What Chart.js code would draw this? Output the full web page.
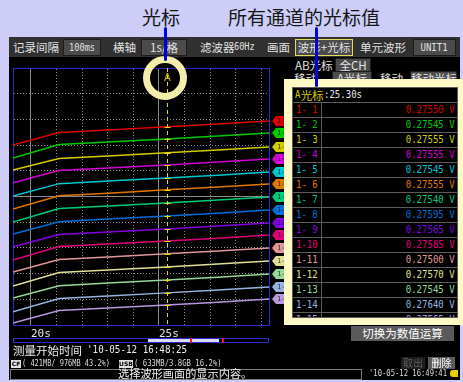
<!DOCTYPE html>
<html><head><meta charset="utf-8">
<script src="https://cdn.jsdelivr.net/npm/chart.js@4/dist/chart.umd.min.js"></script>
<style>
*{box-sizing:border-box;margin:0;padding:0}
body{width:463px;height:382px;background:#cdcdf7;position:relative;overflow:hidden;font-family:"Noto Sans CJK SC","Noto Sans",sans-serif}
.a{position:absolute;white-space:nowrap}
.cj{font-size:11.5px;line-height:16px;color:#e2e2e2}
.bm{font-family:"DejaVu Sans Mono",monospace;display:inline-block;vertical-align:top;transform-origin:left center}
.box{background:#4b4b4b;border:1px solid #1c1c1c;text-align:center}
.row{position:absolute;left:0;width:100%;height:15px;border-top:1px solid #5c5c5c}
.lab{position:absolute;left:0;top:0;width:29px;height:14px;border-right:1px solid #5c5c5c;padding-left:3px;line-height:14px;font-size:11px}
.val{position:absolute;right:2px;top:0;line-height:14px;font-size:11px}
</style></head>
<body>
<div class="a" style="left:142px;top:4px;font-size:19px;line-height:26px;color:#161616">光标</div>
<div class="a" style="left:228px;top:4px;font-size:19px;line-height:26px;color:#161616">所有通道的光标值</div>

<div class="a" style="left:9px;top:37px;width:451px;height:343px;background:#000"></div>
<div class="a" style="left:9px;top:37px;width:451px;height:20px;background:#303030"></div>
<div class="a cj" style="left:13px;top:39px">记录间隔</div>
<div class="a box cj" style="left:63px;top:39px;width:38px;height:17px;line-height:15px;font-size:10px"><span class="bm" style="transform:scaleX(0.86);transform-origin:center">100ms</span></div>
<div class="a cj" style="left:113px;top:39px">横轴</div>
<div class="a box cj" style="left:141px;top:39px;width:46px;height:17px;line-height:15px">1s/格</div>
<div class="a cj" style="left:200px;top:39px">滤波器</div>
<div class="a cj" style="left:234px;top:39px;font-size:10px"><span class="bm" style="transform:scaleX(0.86)">60Hz</span></div>
<div class="a cj" style="left:267px;top:39px">画面</div>
<div class="a box cj" style="left:295px;top:39px;width:58px;height:17px;line-height:15px;border:1px solid #e4dc60">波形+光标</div>
<div class="a cj" style="left:360px;top:39px">单元波形</div>
<div class="a box cj" style="left:413px;top:39px;width:43px;height:17px;line-height:15px;font-size:10px"><span class="bm" style="transform:scaleX(0.9);transform-origin:center">UNIT1</span></div>

<div class="a cj" style="left:295px;top:57px">AB光标</div>
<div class="a box cj" style="left:335px;top:58px;width:36px;height:14px;line-height:12px">全CH</div>
<div class="a cj" style="left:294px;top:70px">移动</div>
<div class="a box cj" style="left:332px;top:71px;width:40px;height:14px;line-height:12px">A光标</div>
<div class="a cj" style="left:380px;top:70px">移动</div>
<div class="a box cj" style="left:410px;top:71px;width:47px;height:14px;line-height:12px">移动光标</div>

<div class="a" style="left:0;top:57px;width:290px;height:290px"><canvas id="c" width="290" height="290"></canvas></div>

<div class="a" style="left:284px;top:79px;width:179px;height:246px;background:#fcf9c4"></div>
<div class="a" id="tbl" style="left:292px;top:87px;width:166px;height:231px;background:#000;border:1px solid #5c5c5c;overflow:hidden">
  <div class="a" style="left:2px;top:0;line-height:14px;font-size:11.5px;color:#d8cc00"><span class="bm" style="font-size:11px;transform:scaleX(0.82)">A</span><span style="margin-left:-1px">光标</span><span class="bm" style="font-size:11px;color:#e6e6e6;transform:scaleX(0.82)">:25.30s</span></div>
</div>

<div class="a" style="left:143px;top:56px;width:44px;height:44px;border:7px solid #f3efab;border-radius:50%"></div>

<div class="a" style="left:351px;top:326px;width:103px;height:15px;background:#5a5a5a;color:#fff;font-size:11.5px;line-height:15px;text-align:center">切换为数值运算</div>
<div class="a" style="left:13px;top:338px;width:256px;height:5px;border:1px solid #2a2ad0"></div>
<div class="a" style="left:148px;top:339px;width:71px;height:3px;background:#dcdcee"></div>
<div class="a" style="left:190px;top:338px;width:2px;height:5px;background:#e02020"></div>
<div class="a" style="left:222px;top:338px;width:2px;height:5px;background:#e02020"></div>

<div class="a cj" style="left:13px;top:342px;font-size:11.5px;color:#ececec">测量开始时间</div>
<div class="a" style="left:87px;top:342px;line-height:16px;font-size:11px;color:#ececec"><span class="bm" style="transform:scaleX(0.84)">'10-05-12 16:48:25</span></div>

<div class="a" style="left:11px;top:360px;width:10px;height:8px;background:#e0e0e0;color:#000;font:bold 6px/8px 'DejaVu Sans';text-align:center">CF</div>
<div class="a" style="left:22px;top:358px;line-height:11px;font-size:8px;color:#dcdcdc"><span class="bm" style="transform:scaleX(0.87)">( 421MB/ 976MB 43.2%)</span></div>
<div class="a" style="left:119px;top:360px;width:14px;height:8px;background:#e0e0e0;color:#000;font:bold 6px/8px 'DejaVu Sans';text-align:center">USB</div>
<div class="a" style="left:134px;top:358px;line-height:11px;font-size:8px;color:#dcdcdc"><span class="bm" style="transform:scaleX(0.91)">( 633MB/3.8GB 16.2%)</span></div>
<div class="a" style="left:401px;top:357px;width:24px;height:12px;background:#1e1e1e;color:#5e5e5e;font-size:10px;line-height:12px;text-align:center">取出</div>
<div class="a" style="left:428px;top:357px;width:27px;height:12px;background:#5a5a5a;color:#fff;font-size:10px;line-height:12px;text-align:center">删除</div>

<div class="a" style="left:10px;top:369px;width:352px;height:11px;border:1px solid #7a7a7a;background:#000"></div>
<div class="a" style="left:118px;top:366px;font-size:11.2px;line-height:14px;color:#eeeeee">选择波形画面的显示内容。</div>
<div class="a" style="left:369px;top:368px;line-height:11px;font-size:9px;color:#dcdcdc"><span class="bm" style="transform:scaleX(0.8)">'10-05-12 16:49:41</span></div>
<div class="a" style="left:450px;top:370px;width:8px;height:7px;background:#e8d000;border-radius:3px 0 0 3px"></div>

<div class="a" style="left:164px;top:27px;width:3px;height:34px;background:#0000dd;border-radius:2px"></div>
<div class="a" style="left:315px;top:27px;width:3px;height:60px;background:#0000dd;border-radius:2px"></div>

<script>
// ---- data ----
const times = [19.3, 21.1, 23.2, 25.3, 27.3, 29.3];
const cursorTime = 25.3;
const majorXTicks = [20, 25];
const minorXTicks = [20, 21, 22, 23, 24, 25, 26, 27, 28, 29];
const minorYTicks = [1, 2, 3, 4, 5, 6, 7, 8, 9];
const majorYTicks = [5];

const ch1  = [7.00, 7.49, 7.60, 7.71, 7.82, 7.94];
const ch2  = [6.50, 7.02, 7.13, 7.24, 7.35, 7.47];
const ch3  = [6.03, 6.48, 6.59, 6.70, 6.81, 6.93];
const ch4  = [5.53, 6.01, 6.12, 6.23, 6.34, 6.46];
const ch5  = [5.02, 5.50, 5.61, 5.72, 5.83, 5.95];
const ch6  = [4.51, 5.03, 5.14, 5.26, 5.37, 5.49];
const ch7  = [4.01, 4.53, 4.64, 4.75, 4.86, 4.98];
const ch8  = [3.54, 4.02, 4.13, 4.24, 4.35, 4.47];
const ch9  = [3.04, 3.52, 3.63, 3.74, 3.85, 3.97];
const ch10 = [2.53, 3.05, 3.16, 3.27, 3.38, 3.50];
const ch11 = [2.06, 2.55, 2.66, 2.77, 2.88, 3.00];
const ch12 = [1.52, 2.04, 2.15, 2.26, 2.37, 2.49];
const ch13 = [1.05, 1.53, 1.64, 1.75, 1.86, 1.98];
const ch14 = [0.51, 1.03, 1.14, 1.25, 1.36, 1.48];
const ch15 = [0.08, 0.56, 0.67, 0.78, 0.89, 1.01];
const series = [ch1, ch2, ch3, ch4, ch5, ch6, ch7, ch8, ch9, ch10, ch11, ch12, ch13, ch14, ch15];

const channelNames = ['1- 1','1- 2','1- 3','1- 4','1- 5','1- 6','1- 7','1- 8','1- 9','1-10','1-11','1-12','1-13','1-14','1-15'];
const tagLabels = ['1-1','1-2','1-3','1-4','1-5','1-6','1-7','1-8','1-9','1-10','1-11','1-12','1-13','1-14','1-15'];
const cursorValues = [0.27550, 0.27545, 0.27555, 0.27555, 0.27545, 0.27555, 0.27540, 0.27595, 0.27565, 0.27585, 0.27500, 0.27570, 0.27545, 0.27640, 0.27565];
const colors = ['#dd0000','#00cc00','#d4cc00','#d400d4','#00c8d0','#e07800','#00cc78','#0070d8','#8000e0','#e0007a','#e09898','#e0e098','#98d898','#98b4e0','#b898e0'];

// ---- table ----
const tbl = document.getElementById('tbl');
channelNames.forEach((n, i) => {
  const row = document.createElement('div');
  row.className = 'row';
  row.style.top = (14 + 15 * i) + 'px';
  row.style.color = colors[i];
  row.innerHTML = '<div class="lab"><span class="bm" style="transform:scaleX(0.82)">' + n +
    '</span></div><div class="val"><span class="bm" style="transform:scaleX(0.82);transform-origin:right center">' +
    cursorValues[i].toFixed(5) + ' V</span></div>';
  tbl.appendChild(row);
});

// ---- chart ----
const overlay = {
  id: 'overlay',
  afterDatasetsDraw(chart) {
    const {ctx, chartArea: a, scales: {x}} = chart;
    const cx = Math.round(x.getPixelForValue(cursorTime)) + 0.5;
    ctx.save();
    ctx.strokeStyle = '#e6de00';
    ctx.lineWidth = 1;
    ctx.setLineDash([4, 3]);
    ctx.beginPath(); ctx.moveTo(cx, a.top); ctx.lineTo(cx, a.bottom); ctx.stroke();
    ctx.setLineDash([]);
    const ci = times.indexOf(cursorTime);
    chart.data.datasets.forEach((ds, i) => {
      const pt = chart.getDatasetMeta(i).data[ci];
      const py = Math.round(pt.y) + 0.5;
      ctx.beginPath(); ctx.moveTo(cx - 3, py); ctx.lineTo(cx + 3, py); ctx.stroke();
    });
    ctx.fillStyle = '#c8c000';
    ctx.font = '10px "DejaVu Sans"';
    ctx.textAlign = 'center';
    ctx.textBaseline = 'top';
    ctx.fillText('A', cx, a.top + 5);
    ctx.restore();
  },
  afterDraw(chart) {
    const {ctx, chartArea: a} = chart;
    ctx.save();
    chart.data.datasets.forEach((ds, i) => {
      const meta = chart.getDatasetMeta(i);
      const y = Math.round(meta.data[meta.data.length - 1].y);
      const x0 = a.right + 3;
      ctx.fillStyle = colors[i];
      ctx.beginPath();
      ctx.moveTo(x0, y); ctx.lineTo(x0 + 4, y - 5); ctx.lineTo(x0 + 17, y - 5);
      ctx.lineTo(x0 + 17, y + 5); ctx.lineTo(x0 + 4, y + 5); ctx.closePath(); ctx.fill();
      ctx.fillStyle = 'rgba(0,0,0,0.75)';
      ctx.font = '7px "DejaVu Sans Mono"';
      ctx.textAlign = 'left';
      ctx.textBaseline = 'middle';
      ctx.fillText(tagLabels[i], x0 + 5, y + 0.5);
    });
    ctx.restore();
  }
};

const setTicks = (arr) => (scale) => { scale.ticks = arr.map(v => ({value: v})); };
const gridGray = '#8a8a8a';
const blue = '#2a2ad0';

new Chart(document.getElementById('c'), {
  type: 'line',
  data: {
    datasets: series.map((d, i) => ({
      label: channelNames[i],
      data: times.map((t, j) => ({x: t, y: d[j]})),
      borderColor: colors[i],
      borderWidth: 1.5,
      pointRadius: 0,
      tension: 0,
      fill: false,
      xAxisID: 'x',
      yAxisID: 'y'
    }))
  },
  options: {
    responsive: false,
    animation: false,
    devicePixelRatio: 1,
    layout: {padding: {left: 13, top: 11, right: 21, bottom: 2}},
    plugins: {legend: {display: false}, tooltip: {enabled: false}},
    scales: {
      x: {
        type: 'linear', position: 'bottom', min: 19.3, max: 29.3,
        afterBuildTicks: setTicks(majorXTicks),
        afterFit: (s) => { s.height = 20; },
        grid: {color: gridGray, lineWidth: 1, drawTicks: false},
        border: {color: blue, width: 1},
        ticks: {align: 'start', padding: 3, color: '#e6e6e6', font: {family: 'DejaVu Sans Mono', size: 11}, callback: (v) => v + 's'}
      },
      xm: {
        type: 'linear', position: 'top', min: 19.3, max: 29.3,
        afterBuildTicks: setTicks(minorXTicks),
        afterFit: (s) => { s.height = 0; },
        grid: {color: gridGray, lineWidth: 1, drawTicks: false},
        border: {color: blue, width: 1, dash: [1, 2]},
        ticks: {display: false}
      },
      y: {
        type: 'linear', position: 'left', min: 0, max: 10,
        afterBuildTicks: setTicks(minorYTicks),
        afterFit: (s) => { s.width = 0; },
        grid: {color: gridGray, lineWidth: 1, drawTicks: false},
        border: {color: blue, width: 1, dash: [1, 2]},
        ticks: {display: false}
      },
      ym: {
        type: 'linear', position: 'right', min: 0, max: 10,
        afterBuildTicks: setTicks(majorYTicks),
        afterFit: (s) => { s.width = 0; },
        grid: {color: gridGray, lineWidth: 1, drawTicks: false},
        border: {color: blue, width: 1},
        ticks: {display: false}
      }
    }
  },
  plugins: [overlay]
});
</script>
</body></html>
